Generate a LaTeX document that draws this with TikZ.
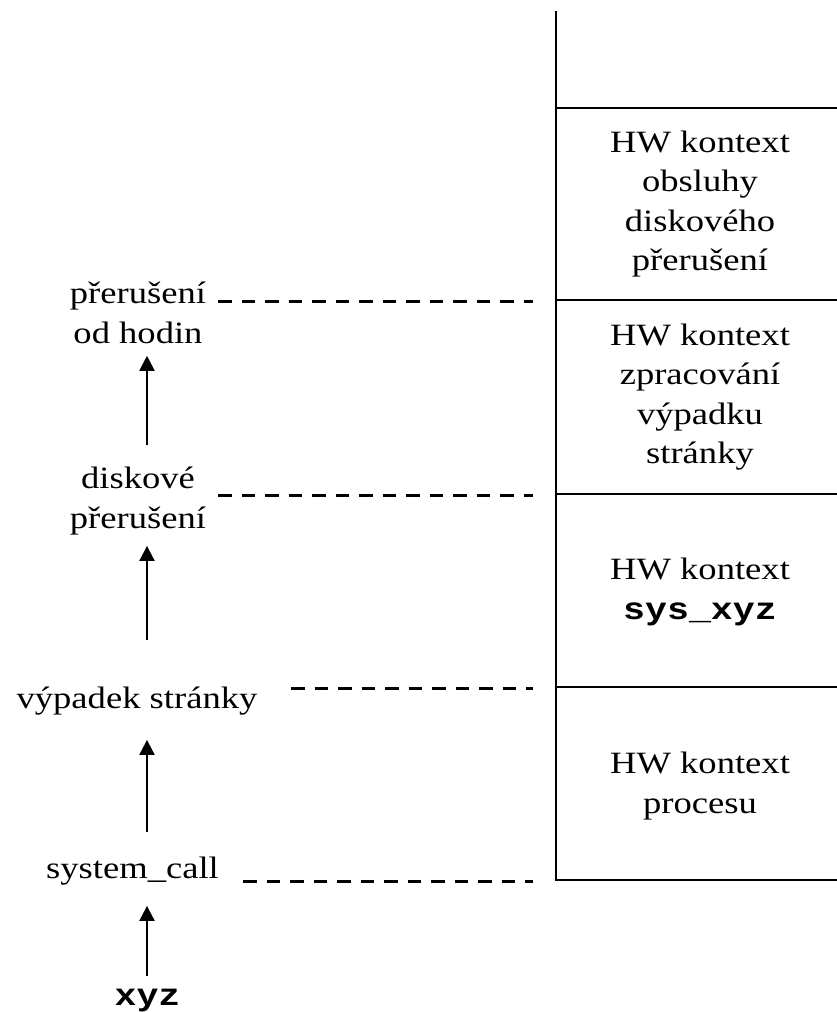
\documentclass[tikz,border=0pt]{standalone}
\usepackage{fontspec}
\setmainfont{Liberation Serif}[FakeStretch=1.18]
\setmonofont{Liberation Mono}[FakeStretch=1.18]
\usetikzlibrary{arrows.meta}
\begin{document}
\begin{tikzpicture}[x=1pt,y=-1pt,
  font=\fontsize{31}{39.3}\selectfont,
  stackline/.style={line width=2pt},
  dashline/.style={line width=3pt, dash pattern=on 13.5pt off 10pt},
  arr/.style={line width=2pt, -{Triangle[length=15pt,width=15pt]}},
  lbl/.style={align=center, inner sep=0pt},
  ctx/.style={align=center, inner sep=0pt}]
\useasboundingbox (0,0) rectangle (837,1012);
% stack
\coordinate (top) at (555.5,11);
\coordinate (bl) at (555.5,880);
\coordinate (br) at (837,880);
\draw[stackline] (top) -- (bl) -- (br);
\foreach \y/\n in {108/a,300/b,494/c,687/d}{
  \coordinate (L\n) at (555.5,\y);
  \coordinate (R\n) at (837,\y);
  \draw[stackline] (L\n) -- (R\n);
}
% context texts
\node[ctx] (c1) at (700,204) {HW kontext\\obsluhy\\diskového\\přerušení};
\node[ctx] (c2) at (700,397) {HW kontext\\zpracování\\výpadku\\stránky};
\node[ctx] (c3) at (700,592) {HW kontext\\{\ttfamily\bfseries sys\_xyz}};
\node[ctx] (c4) at (700,786) {HW kontext\\procesu};
% left labels
\node[lbl] (ph) at (138,313) {přerušení\\od hodin};
\node[lbl] (dp) at (138,501) {diskové\\přerušení};
\node[lbl, anchor=base] (vs) at (137,708) {výpadek stránky};
\node[lbl, anchor=base] (sc) at (132.5,878) {system\_call};
\node[lbl, anchor=base] (xyz) at (147.5,1005) {\ttfamily\bfseries xyz};
% dashed connectors
\coordinate (d1s) at (218,301); \coordinate (d1e) at (533,301);
\coordinate (d2s) at (218,495); \coordinate (d2e) at (533,495);
\coordinate (d3s) at (291,688); \coordinate (d3e) at (533,688);
\coordinate (d4s) at (243,881); \coordinate (d4e) at (533,881);
\draw[dashline] (d1s) -- (d1e);
\draw[dashline] (d2s) -- (d2e);
\draw[dashline] (d3s) -- (d3e);
\draw[dashline] (d4s) -- (d4e);
% arrows
\coordinate (ax) at (147,0);
\draw[arr, shorten <=22pt, shorten >=12pt] (dp.north -| ax) -- (ph.south -| ax);
\draw[arr, shorten <=46pt, shorten >=11pt] (vs.north -| ax) -- (dp.south -| ax);
\draw[arr, shorten <=24pt, shorten >=25pt] (sc.north -| ax) -- (vs.south -| ax);
\draw[arr, shorten <=12pt, shorten >=21pt] (xyz.north -| ax) -- (sc.south -| ax);
\end{tikzpicture}
\end{document}
